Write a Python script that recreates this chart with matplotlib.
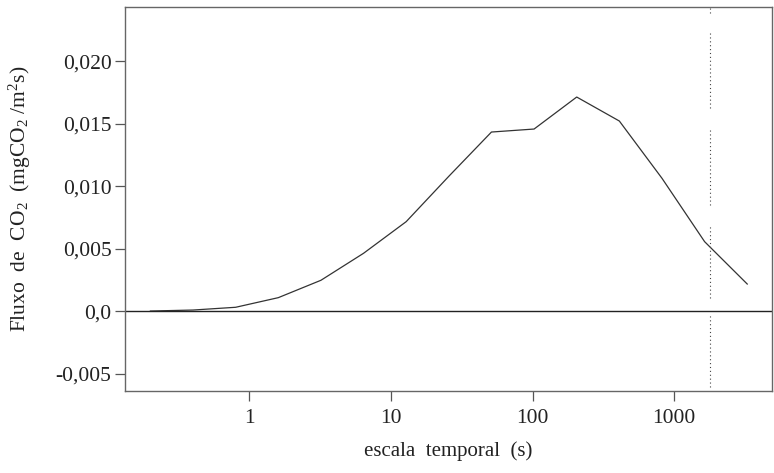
import numpy as np
import matplotlib
matplotlib.use("Agg")
import matplotlib.pyplot as plt

# escalas temporais (s) e fluxo de CO2
escala = [0.2, 0.4, 0.8, 1.6, 3.2, 6.4, 12.8, 25.6, 51.2, 102.4, 204.8, 409.6, 819.2, 1638.4, 3276.8]
fluxo = [0.00002, 0.0001, 0.00032, 0.00109, 0.00248, 0.00464, 0.00717, 0.0108, 0.01434,
         0.01458, 0.01714, 0.01522, 0.01064, 0.00557, 0.00218]

x_ticks = [1, 10, 100, 1000]
x_ticklabels = ["1", "10", "100", "1000"]
y_ticks = [-0.005, 0.0, 0.005, 0.010, 0.015, 0.020]
y_ticklabels = ["-0,005", "0,0", "0,005", "0,010", "0,015", "0,020"]

# linha vertical pontilhada (com falhas)
x_corte = 1800
trechos = [(-0.00606, -0.0003), (0.00106, 0.0069), (0.0085, 0.01466), (0.01626, 0.02234), (0.0239, 0.0245)]

plt.rcParams['font.family'] = ['Liberation Serif', 'DejaVu Serif']
plt.rcParams['mathtext.fontset'] = 'custom'
plt.rcParams['mathtext.rm'] = 'Liberation Serif'
plt.rcParams['mathtext.it'] = 'Liberation Serif:italic'

fig = plt.figure(figsize=(7.74, 4.73), dpi=100)
ax = fig.add_axes([0.1619, 0.1734, 0.9974 - 0.1619, 0.9846 - 0.1734])

ax.plot(escala, fluxo, color='#333333', lw=0.9)
ax.axhline(0, color='#222222', lw=1.0)
for y0, y1 in trechos:
    ax.plot([x_corte, x_corte], [y0, y1], color='#444444', lw=0.8, ls=(0, (1, 2.5)))

ax.set_xscale('log')
ax.set_xlim(0.133, 4900)
ax.set_ylim(-0.006376, 0.02432)
ax.set_xticks(x_ticks)
ax.set_xticklabels(x_ticklabels)
ax.minorticks_off()
ax.set_yticks(y_ticks)
ax.set_yticklabels(y_ticklabels)
ax.tick_params(axis='both', direction='out', length=7, width=0.9, colors='#555555',
               labelcolor='#222222', labelsize=15.5, pad=3)
ax.tick_params(axis='x', pad=6)

for s in ax.spines.values():
    s.set_color('#666666')
    s.set_linewidth(1.0)

ax.set_xlabel("escala  temporal  (s)", fontsize=15, color='#222222')
ax.xaxis.set_label_coords(0.5, -0.13)
ax.set_ylabel(r"Fluxo  de  CO$_2$  (mgCO$_2$ /m$^2$s)", fontsize=15.5, color='#222222')
ax.yaxis.set_label_coords(-0.143, 0.5)

fig.savefig("out.png", dpi=100)
